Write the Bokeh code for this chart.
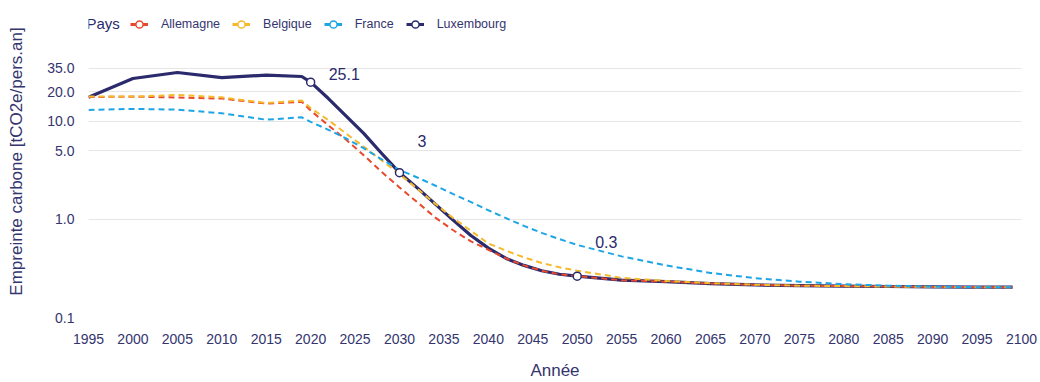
from bokeh.plotting import figure
from bokeh.models import (ColumnDataSource, FixedTicker, NumeralTickFormatter,
                          Legend, LegendItem, Label, Range1d)
from bokeh.core.properties import value
from bokeh.embed import file_html
from bokeh.resources import INLINE

# Years: observed history, then the projected trajectory
years = [1995, 2000, 2005, 2010, 2015, 2019,
         2020, 2022, 2024, 2026, 2028, 2030, 2032, 2034, 2036, 2038,
         2040, 2042, 2044, 2046, 2048, 2050,
         2055, 2060, 2065, 2070, 2075, 2080, 2085, 2090, 2095, 2099]

# Carbon footprint, tCO2e per person per year
allemagne = [17.7, 17.9, 17.5, 17.1, 15.2, 15.8,
             12.9, 9.1, 6.5, 4.5, 3.05, 2.12, 1.5, 1.05, 0.78, 0.60,
             0.49, 0.40, 0.34, 0.30, 0.276, 0.264,
             0.24, 0.232, 0.222, 0.215, 0.211, 0.209, 0.207, 0.205, 0.204, 0.204]
belgique = [17.9, 17.9, 18.6, 17.6, 15.4, 16.3,
            13.7, 10.3, 7.5, 5.5, 4.0, 2.9, 2.06, 1.45, 1.04, 0.77,
            0.57, 0.48, 0.41, 0.36, 0.325, 0.30,
            0.254, 0.236, 0.224, 0.216, 0.211, 0.209, 0.207, 0.205, 0.204, 0.204]
france = [13.1, 13.4, 13.2, 12.1, 10.4, 11.0,
          9.9, 8.2, 6.7, 5.3, 4.1, 3.2, 2.68, 2.22, 1.82, 1.51,
          1.24, 1.03, 0.86, 0.73, 0.63, 0.55,
          0.42, 0.34, 0.285, 0.252, 0.232, 0.219, 0.211, 0.206, 0.204, 0.204]
luxembourg = [17.6, 27.4, 31.5, 28.0, 29.6, 28.7,
              25.1, 17.1, 11.3, 7.5, 4.7, 3.0, 2.1, 1.44, 0.99, 0.69,
              0.51, 0.40, 0.34, 0.30, 0.276, 0.264,
              0.24, 0.232, 0.222, 0.215, 0.211, 0.209, 0.207, 0.205, 0.204, 0.204]

# Milestones annotated on the Luxembourg trajectory
milestone_years = [2020, 2030, 2050]

x_ticks = list(range(1995, 2101, 5))
y_ticks = [0.1, 1, 5, 10, 20, 35]

RED = "#e8492c"
YELLOW = "#f6b92b"
BLUE = "#1ea5e6"
NAVY = "#2a2a6c"
TEXT = "#34346e"
FONT = "Liberation Sans"
NAN = float("nan")

# The frame reaches up to the top of the canvas so the legend row sits inside it
p = figure(width=1040, height=382, y_axis_type="log",
           x_range=Range1d(1995, 2100), y_range=Range1d(0.1, 152),
           output_backend="svg", toolbar_location=None,
           min_border_left=88, min_border_right=19,
           min_border_top=5, min_border_bottom=62)
p.outline_line_color = None
p.background_fill_color = "white"
p.border_fill_color = "white"

# Luxembourg underneath, dashed neighbours drawn over it
p.line(years, luxembourg, color=NAVY, line_width=3.2, line_join="round")
dash = "6 4"
p.line(years, allemagne, color=RED, line_width=2, line_dash=dash, line_join="round")
p.line(years, belgique, color=YELLOW, line_width=2, line_dash=dash, line_join="round")
p.line(years, france, color=BLUE, line_width=2, line_dash=dash, line_join="round")

# Milestone markers and their value labels
m_vals = [luxembourg[years.index(y)] for y in milestone_years]


def fmt(v):
    s = f"{v:.1f}"
    return s[:-2] if s.endswith(".0") else s


src = ColumnDataSource(dict(
    x=milestone_years, y=m_vals, label=[fmt(v) for v in m_vals],
    dy=[-8, -32, -34],
))
p.scatter("x", "y", source=src, size=8, fill_color="white",
          line_color=NAVY, line_width=1.5)
p.text("x", "y", text="label", source=src, x_offset=18, y_offset="dy",
       text_font=value(FONT), text_font_size="16px", text_color=NAVY,
       text_align="left", text_baseline="middle")

# Axes
p.xaxis.ticker = FixedTicker(ticks=x_ticks, minor_ticks=[])
p.yaxis.ticker = FixedTicker(ticks=y_ticks, minor_ticks=[])
p.yaxis.formatter = NumeralTickFormatter(format="0.0")
p.xaxis.axis_label = "Année"
p.yaxis.axis_label = "Empreinte carbone [tCO2e/pers.an]"
for ax in (p.xaxis, p.yaxis):
    ax.axis_line_color = None
    ax.major_tick_line_color = None
    ax.minor_tick_line_color = None
    ax.major_label_text_font = FONT
    ax.major_label_text_font_size = "14px"
    ax.major_label_text_color = TEXT
    ax.axis_label_text_font = FONT
    ax.axis_label_text_font_size = "17px"
    ax.axis_label_text_font_style = "normal"
    ax.axis_label_text_color = TEXT
p.xaxis.major_label_standoff = 10
p.xaxis.axis_label_standoff = 14
p.yaxis.major_label_standoff = 8
p.yaxis.axis_label_standoff = 18

p.xgrid.grid_line_color = None
p.ygrid.grid_line_color = "#e6e6e6"
p.ygrid.grid_line_width = 1

# Legend swatches: solid line + open circle (placeholder renderers, no visible points)
items = []
for name, col in [("Allemagne", RED), ("Belgique", YELLOW),
                  ("France", BLUE), ("Luxembourg", NAVY)]:
    ln = p.line([NAN, NAN], [NAN, NAN], color=col, line_width=3)
    sc = p.scatter([NAN], [NAN], size=7, fill_color="white", line_color=col, line_width=1.5)
    items.append(LegendItem(label=name, renderers=[ln, sc]))

legend = Legend(items=items, orientation="horizontal", location=(42, 284),
                glyph_width=18, glyph_height=18, label_standoff=13, spacing=12,
                padding=0, margin=0, border_line_color=None, background_fill_alpha=0,
                label_text_font=FONT, label_text_font_size="12.5px",
                label_text_color=TEXT, label_height=18)
p.add_layout(legend, "center")

p.add_layout(Label(x=-2, y=294, x_units="screen", y_units="screen", text="Pays",
                   text_font=FONT, text_font_size="15px", text_color=NAVY,
                   text_align="left", text_baseline="middle"))

open("out.html", "w").write(file_html(p, INLINE))
